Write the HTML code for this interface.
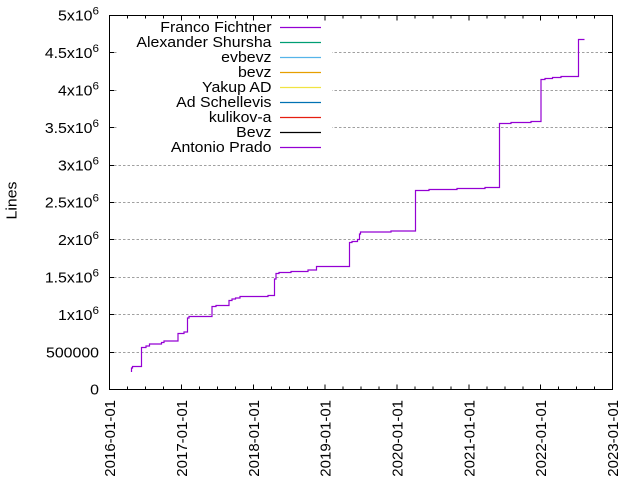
<!DOCTYPE html>
<html>
<head>
<meta charset="utf-8">
<style>
html,body{margin:0;padding:0;background:#fff;}
svg{display:block;}
text{font-family:"Liberation Sans","DejaVu Sans",sans-serif;font-size:15px;fill:#000;}
</style>
</head>
<body>
<svg width="640" height="480" viewBox="0 0 640 480" xmlns="http://www.w3.org/2000/svg">
<rect x="0" y="0" width="640" height="480" fill="#fff"/>

<!-- grid -->
<g stroke="#a0a0a0" stroke-width="1" stroke-dasharray="2.5 2" fill="none">
<line x1="114" y1="352.5" x2="608" y2="352.5"/>
<line x1="114" y1="314.5" x2="608" y2="314.5"/>
<line x1="114" y1="277.5" x2="608" y2="277.5"/>
<line x1="114" y1="239.5" x2="608" y2="239.5"/>
<line x1="114" y1="202.5" x2="608" y2="202.5"/>
<line x1="114" y1="165.5" x2="608" y2="165.5"/>
<line x1="114" y1="127.5" x2="608" y2="127.5"/>
<line x1="114" y1="90.5" x2="608" y2="90.5"/>
<line x1="114" y1="52.5" x2="608" y2="52.5"/>
</g>

<!-- legend opaque box -->
<rect x="117" y="16" width="215" height="143" fill="#fff"/>

<!-- legend -->
<g>
<g transform="translate(271.5,32) scale(1.06,1)"><text text-anchor="end">Franco Fichtner</text></g>
<g transform="translate(271.5,47) scale(1.06,1)"><text text-anchor="end">Alexander Shursha</text></g>
<g transform="translate(271.5,62) scale(1.06,1)"><text text-anchor="end">evbevz</text></g>
<g transform="translate(271.5,77) scale(1.06,1)"><text text-anchor="end">bevz</text></g>
<g transform="translate(271.5,92) scale(1.06,1)"><text text-anchor="end">Yakup AD</text></g>
<g transform="translate(271.5,107) scale(1.06,1)"><text text-anchor="end">Ad Schellevis</text></g>
<g transform="translate(271.5,122) scale(1.06,1)"><text text-anchor="end">kulikov-a</text></g>
<g transform="translate(271.5,137) scale(1.06,1)"><text text-anchor="end">Bevz</text></g>
<g transform="translate(271.5,152) scale(1.06,1)"><text text-anchor="end">Antonio Prado</text></g>
</g>
<g stroke-width="1.2" fill="none">
<line x1="280" y1="27.5" x2="321" y2="27.5" stroke="#9400d3"/>
<line x1="280" y1="42.5" x2="321" y2="42.5" stroke="#009e73"/>
<line x1="280" y1="57.5" x2="321" y2="57.5" stroke="#56b4e9"/>
<line x1="280" y1="72.5" x2="321" y2="72.5" stroke="#e69f00"/>
<line x1="280" y1="87.5" x2="321" y2="87.5" stroke="#f0e442"/>
<line x1="280" y1="102.5" x2="321" y2="102.5" stroke="#0072b2"/>
<line x1="280" y1="117.5" x2="321" y2="117.5" stroke="#e51e10"/>
<line x1="280" y1="132.5" x2="321" y2="132.5" stroke="#000000"/>
<line x1="280" y1="147.5" x2="321" y2="147.5" stroke="#9400d3"/>
</g>

<!-- data -->
<path fill="none" stroke="#9400d3" stroke-width="1.2" d="M131.5,372 V368 H132.5 V366.5 H141.5 V347.5 H146 V346 H149.5 V344 H161.5 V342.5 H164 V341 H178 V333.5 H184 V332 H187.5 V318 H189 V316.5 H212 V306.5 H216 V305.5 H229 V300.5 H232 V299 H235.5 V298 H240 V296.5 H268 V295.5 H274.5 V279 H276 V273.5 H279 V272.5 H291 V271.5 H308 V270 H316.5 V266.5 H349.5 V242.5 H352 V241.5 H357.5 V239.5 H359.5 V234 H360.5 V232 H391 V231 H415.5 V190.5 H429 V189.5 H457 V188.5 H485 V187.5 H499.5 V123.5 H511 V122.5 H531 V121.5 H541 V79.5 H545 V78.5 H552.5 V77.5 H561 V76.5 H578.5 V39.5 H584.5"/>

<!-- border -->
<rect x="109.5" y="15.5" width="503" height="374" fill="none" stroke="#000" stroke-width="1"/>

<!-- y ticks -->
<g stroke="#000" stroke-width="1">
<line x1="109.5" y1="352.5" x2="114" y2="352.5"/><line x1="608" y1="352.5" x2="612.5" y2="352.5"/>
<line x1="109.5" y1="314.5" x2="114" y2="314.5"/><line x1="608" y1="314.5" x2="612.5" y2="314.5"/>
<line x1="109.5" y1="277.5" x2="114" y2="277.5"/><line x1="608" y1="277.5" x2="612.5" y2="277.5"/>
<line x1="109.5" y1="239.5" x2="114" y2="239.5"/><line x1="608" y1="239.5" x2="612.5" y2="239.5"/>
<line x1="109.5" y1="202.5" x2="114" y2="202.5"/><line x1="608" y1="202.5" x2="612.5" y2="202.5"/>
<line x1="109.5" y1="165.5" x2="114" y2="165.5"/><line x1="608" y1="165.5" x2="612.5" y2="165.5"/>
<line x1="109.5" y1="127.5" x2="114" y2="127.5"/><line x1="608" y1="127.5" x2="612.5" y2="127.5"/>
<line x1="109.5" y1="90.5" x2="114" y2="90.5"/><line x1="608" y1="90.5" x2="612.5" y2="90.5"/>
<line x1="109.5" y1="52.5" x2="114" y2="52.5"/><line x1="608" y1="52.5" x2="612.5" y2="52.5"/>
</g>

<!-- x ticks major -->
<g stroke="#000" stroke-width="1">
<line x1="181.5" y1="389.5" x2="181.5" y2="384.5"/><line x1="181.5" y1="15.5" x2="181.5" y2="20.5"/>
<line x1="253.5" y1="389.5" x2="253.5" y2="384.5"/><line x1="253.5" y1="15.5" x2="253.5" y2="20.5"/>
<line x1="325" y1="389.5" x2="325" y2="384.5"/><line x1="325" y1="15.5" x2="325" y2="20.5"/>
<line x1="397" y1="389.5" x2="397" y2="384.5"/><line x1="397" y1="15.5" x2="397" y2="20.5"/>
<line x1="469" y1="389.5" x2="469" y2="384.5"/><line x1="469" y1="15.5" x2="469" y2="20.5"/>
<line x1="540.5" y1="389.5" x2="540.5" y2="384.5"/><line x1="540.5" y1="15.5" x2="540.5" y2="20.5"/>
</g>
<!-- x ticks minor -->
<g stroke="#000" stroke-width="1">
<line x1="127.5" y1="389.5" x2="127.5" y2="386.5"/><line x1="127.5" y1="15.5" x2="127.5" y2="18.5"/>
<line x1="145.5" y1="389.5" x2="145.5" y2="386.5"/><line x1="145.5" y1="15.5" x2="145.5" y2="18.5"/>
<line x1="163.5" y1="389.5" x2="163.5" y2="386.5"/><line x1="163.5" y1="15.5" x2="163.5" y2="18.5"/>
<line x1="199.5" y1="389.5" x2="199.5" y2="386.5"/><line x1="199.5" y1="15.5" x2="199.5" y2="18.5"/>
<line x1="217.5" y1="389.5" x2="217.5" y2="386.5"/><line x1="217.5" y1="15.5" x2="217.5" y2="18.5"/>
<line x1="235.5" y1="389.5" x2="235.5" y2="386.5"/><line x1="235.5" y1="15.5" x2="235.5" y2="18.5"/>
<line x1="271.5" y1="389.5" x2="271.5" y2="386.5"/><line x1="271.5" y1="15.5" x2="271.5" y2="18.5"/>
<line x1="289.5" y1="389.5" x2="289.5" y2="386.5"/><line x1="289.5" y1="15.5" x2="289.5" y2="18.5"/>
<line x1="307.5" y1="389.5" x2="307.5" y2="386.5"/><line x1="307.5" y1="15.5" x2="307.5" y2="18.5"/>
<line x1="343" y1="389.5" x2="343" y2="386.5"/><line x1="343" y1="15.5" x2="343" y2="18.5"/>
<line x1="361" y1="389.5" x2="361" y2="386.5"/><line x1="361" y1="15.5" x2="361" y2="18.5"/>
<line x1="379" y1="389.5" x2="379" y2="386.5"/><line x1="379" y1="15.5" x2="379" y2="18.5"/>
<line x1="415" y1="389.5" x2="415" y2="386.5"/><line x1="415" y1="15.5" x2="415" y2="18.5"/>
<line x1="433" y1="389.5" x2="433" y2="386.5"/><line x1="433" y1="15.5" x2="433" y2="18.5"/>
<line x1="451" y1="389.5" x2="451" y2="386.5"/><line x1="451" y1="15.5" x2="451" y2="18.5"/>
<line x1="487" y1="389.5" x2="487" y2="386.5"/><line x1="487" y1="15.5" x2="487" y2="18.5"/>
<line x1="505" y1="389.5" x2="505" y2="386.5"/><line x1="505" y1="15.5" x2="505" y2="18.5"/>
<line x1="523" y1="389.5" x2="523" y2="386.5"/><line x1="523" y1="15.5" x2="523" y2="18.5"/>
<line x1="558.5" y1="389.5" x2="558.5" y2="386.5"/><line x1="558.5" y1="15.5" x2="558.5" y2="18.5"/>
<line x1="576.5" y1="389.5" x2="576.5" y2="386.5"/><line x1="576.5" y1="15.5" x2="576.5" y2="18.5"/>
<line x1="594.5" y1="389.5" x2="594.5" y2="386.5"/><line x1="594.5" y1="15.5" x2="594.5" y2="18.5"/>
</g>

<!-- y tick labels -->
<g transform="translate(99,394.5) scale(1.06,1)"><text text-anchor="end">0</text></g>
<g transform="translate(99,357.5) scale(1.06,1)"><text text-anchor="end">500000</text></g>
<g transform="translate(99,320) scale(1.06,1)"><text text-anchor="end">1x10<tspan dy="-6" font-size="11">6</tspan></text></g>
<g transform="translate(99,282.5) scale(1.06,1)"><text text-anchor="end">1.5x10<tspan dy="-6" font-size="11">6</tspan></text></g>
<g transform="translate(99,245) scale(1.06,1)"><text text-anchor="end">2x10<tspan dy="-6" font-size="11">6</tspan></text></g>
<g transform="translate(99,207.5) scale(1.06,1)"><text text-anchor="end">2.5x10<tspan dy="-6" font-size="11">6</tspan></text></g>
<g transform="translate(99,170.5) scale(1.06,1)"><text text-anchor="end">3x10<tspan dy="-6" font-size="11">6</tspan></text></g>
<g transform="translate(99,133) scale(1.06,1)"><text text-anchor="end">3.5x10<tspan dy="-6" font-size="11">6</tspan></text></g>
<g transform="translate(99,95.5) scale(1.06,1)"><text text-anchor="end">4x10<tspan dy="-6" font-size="11">6</tspan></text></g>
<g transform="translate(99,58) scale(1.06,1)"><text text-anchor="end">4.5x10<tspan dy="-6" font-size="11">6</tspan></text></g>
<g transform="translate(99,20.5) scale(1.06,1)"><text text-anchor="end">5x10<tspan dy="-6" font-size="11">6</tspan></text></g>

<!-- y axis title -->
<g transform="translate(16.5,200.5) rotate(-90) scale(1.06,1)"><text text-anchor="middle">Lines</text></g>

<!-- x tick labels -->
<g transform="translate(115,476.7) rotate(-90)"><text x="0" y="0" font-size="15.5" textLength="76.7" lengthAdjust="spacingAndGlyphs">2016-01-01</text></g>
<g transform="translate(187,476.7) rotate(-90)"><text x="0" y="0" font-size="15.5" textLength="76.7" lengthAdjust="spacingAndGlyphs">2017-01-01</text></g>
<g transform="translate(259,476.7) rotate(-90)"><text x="0" y="0" font-size="15.5" textLength="76.7" lengthAdjust="spacingAndGlyphs">2018-01-01</text></g>
<g transform="translate(330.5,476.7) rotate(-90)"><text x="0" y="0" font-size="15.5" textLength="76.7" lengthAdjust="spacingAndGlyphs">2019-01-01</text></g>
<g transform="translate(402.5,476.7) rotate(-90)"><text x="0" y="0" font-size="15.5" textLength="76.7" lengthAdjust="spacingAndGlyphs">2020-01-01</text></g>
<g transform="translate(474.5,476.7) rotate(-90)"><text x="0" y="0" font-size="15.5" textLength="76.7" lengthAdjust="spacingAndGlyphs">2021-01-01</text></g>
<g transform="translate(546,476.7) rotate(-90)"><text x="0" y="0" font-size="15.5" textLength="76.7" lengthAdjust="spacingAndGlyphs">2022-01-01</text></g>
<g transform="translate(618,476.7) rotate(-90)"><text x="0" y="0" font-size="15.5" textLength="76.7" lengthAdjust="spacingAndGlyphs">2023-01-01</text></g>
</svg>
</body>
</html>
